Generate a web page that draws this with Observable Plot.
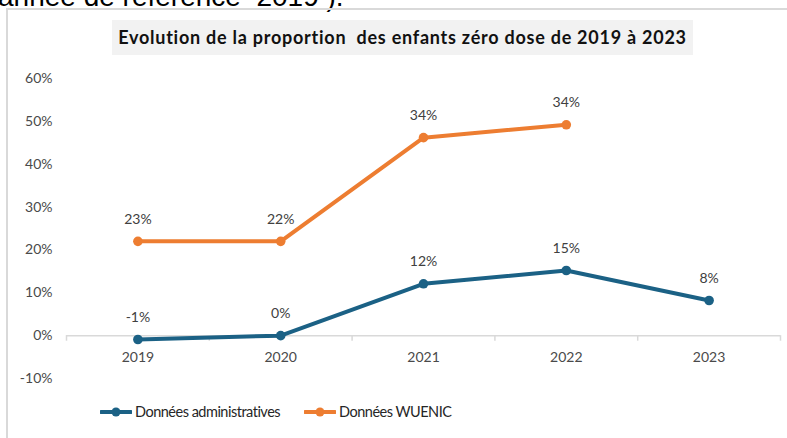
<!DOCTYPE html>
<html>
<head>
<meta charset="utf-8">
<script src="https://cdn.jsdelivr.net/npm/d3@7"></script>
<script src="https://cdn.jsdelivr.net/npm/@observablehq/plot@0.6"></script>
<style>
  html, body { margin: 0; padding: 0; background: #fff; }
  body { width: 787px; height: 438px; overflow: hidden; position: relative; font-family: Lato, "Open Sans", sans-serif; }
  #header { position: absolute; left: -2px; top: -17px; font-family: "Liberation Sans", Arial, sans-serif; font-size: 28px; line-height: 28px; color: #000; white-space: pre; }
  #frame { position: absolute; left: 6px; top: 8px; width: 820px; height: 460px; border: 2px solid #d9d9d9; box-sizing: border-box; }
  #title { position: absolute; left: 112px; top: 20px; width: 581px; height: 35px; background: #f2f2f2; font-family: Lato, sans-serif; font-weight: bold; font-size: 18px; letter-spacing: 0.75px; line-height: 35px; text-align: center; color: #111; white-space: pre; }
  #chart { position: absolute; left: 0; top: 60px; }
  #legend { position: absolute; left: 100px; top: 403px; display: flex; align-items: center; font-family: Lato, sans-serif; font-size: 14.5px; letter-spacing: -0.5px; color: #262626; }
  #legend .item { display: flex; align-items: center; margin-right: 24px; }
  #legend svg { margin-right: 3px; }
</style>
</head>
<body>
<div id="header">année de référence  2019 ).</div>
<div id="frame"></div>
<div id="title"></div>
<div id="chart"></div>
<div id="legend"></div>
<script>
const titleText = "Evolution de la proportion  des enfants zéro dose de 2019 à 2023";
const years = [2019, 2020, 2021, 2022, 2023];
const adminValues = [-0.9, 0, 12.1, 15.2, 8.2];
const adminLabels = ["-1%", "0%", "12%", "15%", "8%"];
const wuenicYears = [2019, 2020, 2021, 2022];
const wuenicValues = [22, 22, 46.2, 49.2];
const wuenicLabels = ["23%", "22%", "34%", "34%"];
const yTicks = [-10, 0, 10, 20, 30, 40, 50, 60];
const seriesNames = ["Données administratives", "Données WUENIC"];
const seriesColors = ["#1b6185", "#ed7d31"];

document.getElementById("title").textContent = titleText;

const admin = years.map((y, i) => ({year: y, value: adminValues[i], label: adminLabels[i]}));
const wuenic = wuenicYears.map((y, i) => ({year: y, value: wuenicValues[i], label: wuenicLabels[i]}));
const boundaries = [years[0] - 0.5, ...years.map(y => y + 0.5)];

const chart = Plot.plot({
  width: 787,
  height: 340,
  marginTop: 18,
  marginBottom: 22,
  marginLeft: 66,
  marginRight: 7,
  style: {fontFamily: "Lato, sans-serif", fontSize: "14px", background: "transparent"},
  x: {domain: [years[0] - 0.5, years[years.length - 1] + 0.5]},
  y: {domain: [yTicks[0], yTicks[yTicks.length - 1]]},
  marks: [
    Plot.ruleY([0], {stroke: "#d9d9d9", strokeWidth: 1.5}),
    Plot.ruleX(boundaries, {x: d => d, y1: 0, y2: -1.3, stroke: "#d9d9d9", strokeWidth: 1.5}),
    Plot.axisY({ticks: yTicks, tickSize: 0, tickPadding: 14, tickFormat: d => d + "%", color: "#4a4a4a", fontSize: 14, label: null}),
    Plot.axisX({ticks: years, tickSize: 0, tickPadding: 0, tickFormat: d => String(d), dy: -26, color: "#4a4a4a", fontSize: 14, label: null}),
    Plot.line(wuenic, {x: "year", y: "value", stroke: seriesColors[1], strokeWidth: 4}),
    Plot.dot(wuenic, {x: "year", y: "value", r: 4.8, fill: seriesColors[1]}),
    Plot.text(wuenic, {x: "year", y: "value", text: "label", dy: -22, fill: "#404040", fontSize: 14}),
    Plot.line(admin, {x: "year", y: "value", stroke: seriesColors[0], strokeWidth: 4}),
    Plot.dot(admin, {x: "year", y: "value", r: 4.8, fill: seriesColors[0]}),
    Plot.text(admin, {x: "year", y: "value", text: "label", dy: -22, fill: "#404040", fontSize: 14})
  ]
});
document.getElementById("chart").appendChild(chart);

const legend = document.getElementById("legend");
seriesNames.forEach((name, i) => {
  const item = document.createElement("div");
  item.className = "item";
  item.innerHTML = `<svg width="32" height="12"><line x1="1" y1="6" x2="31" y2="6" stroke="${seriesColors[i]}" stroke-width="4" stroke-linecap="round"/><circle cx="16" cy="6" r="4.5" fill="${seriesColors[i]}"/></svg><span>${name}</span>`;
  legend.appendChild(item);
});
</script>
</body>
</html>
